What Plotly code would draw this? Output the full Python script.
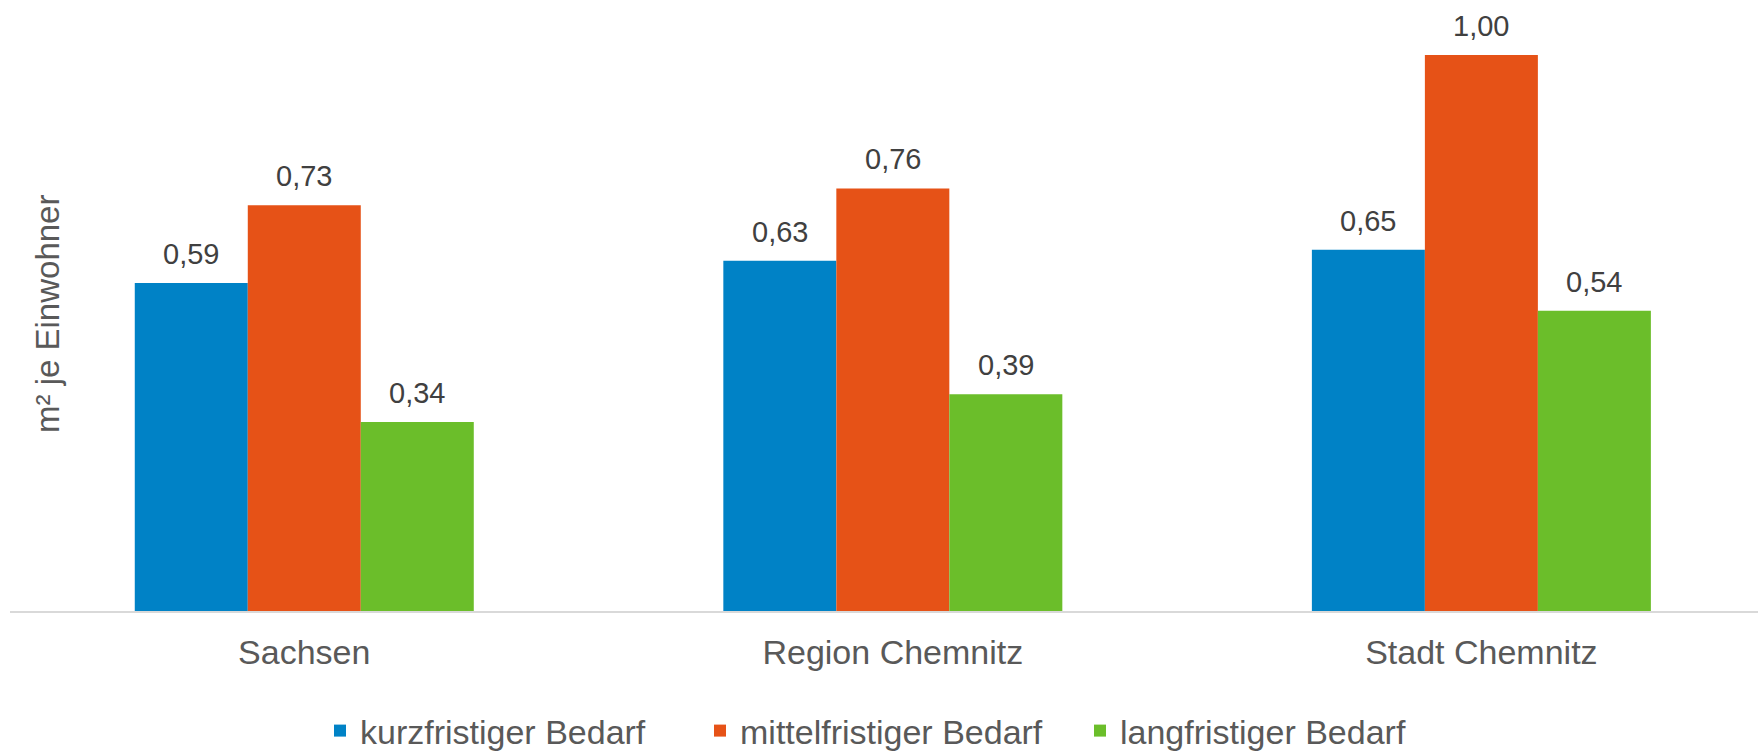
import plotly.graph_objects as go

categories = ["Sachsen", "Region Chemnitz", "Stadt Chemnitz"]
series_names = ["kurzfristiger Bedarf", "mittelfristiger Bedarf", "langfristiger Bedarf"]
kurz = [0.59, 0.63, 0.65]
mittel = [0.73, 0.76, 1.00]
lang = [0.34, 0.39, 0.54]
colors = ["#0082C6", "#E65217", "#6BBE2A"]
y_title = "m² je Einwohner"

series_values = [kurz, mittel, lang]

W, H = 1758, 752
ml, mr, mt, mb = 10, 0, 0, 141
pw, ph = W - ml - mr, H - mt - mb
FONT = "Liberation Sans, Arial, sans-serif"

fig = go.Figure()
for name, vals, col in zip(series_names, series_values, colors):
    fig.add_trace(go.Bar(
        x=categories, y=vals, name=name,
        marker=dict(color=col, line=dict(width=0)),
        hoverinfo="skip",
    ))

bargap = 0.424
bar_w = (1 - bargap) / 3
annotations = []
for j, vals in enumerate(series_values):
    for i, v in enumerate(vals):
        annotations.append(dict(
            x=i + (j - 1) * bar_w, y=v, xref="x", yref="y",
            text=f"{v:.2f}".replace(".", ","),
            showarrow=False, yanchor="middle", yshift=29,
            font=dict(family=FONT, size=29, color="#404040"),
        ))

annotations.append(dict(
    x=(47 - ml) / pw, y=(H - mb - 314) / ph, xref="paper", yref="paper",
    xanchor="center", yanchor="middle",
    text=y_title, showarrow=False, textangle=-90,
    font=dict(family=FONT, size=33, color="#595959"),
))

fig.update_layout(
    width=W, height=H,
    margin=dict(l=ml, r=mr, t=mt, b=mb, pad=0, autoexpand=False),
    paper_bgcolor="white", plot_bgcolor="white",
    barmode="group", bargap=bargap, bargroupgap=0,
    font=dict(family=FONT, color="#595959"),
    xaxis=dict(
        range=[-0.5, 2.47], showgrid=False, zeroline=False,
        showline=True, linecolor="#D9D9D9", linewidth=2,
        ticks="", tickfont=dict(size=34, color="#595959"),
        ticklabelstandoff=10, automargin=False,
        fixedrange=True,
    ),
    yaxis=dict(
        range=[0, 1.099], visible=False, showgrid=False, zeroline=False,
        automargin=False, fixedrange=True,
    ),
    showlegend=True,
    legend=dict(
        orientation="h", x=(320 - ml) / pw, xanchor="left",
        y=-120 / ph, yanchor="middle",
        font=dict(size=34, color="#595959"),
        entrywidth=335, entrywidthmode="pixels",
        traceorder="normal", bgcolor="rgba(0,0,0,0)",
    ),
    annotations=annotations,
)

fig.write_html(
    "out.html",
    config={"displayModeBar": False},
    post_script="document.body.style.margin='0';document.body.style.overflow='hidden';",
)
